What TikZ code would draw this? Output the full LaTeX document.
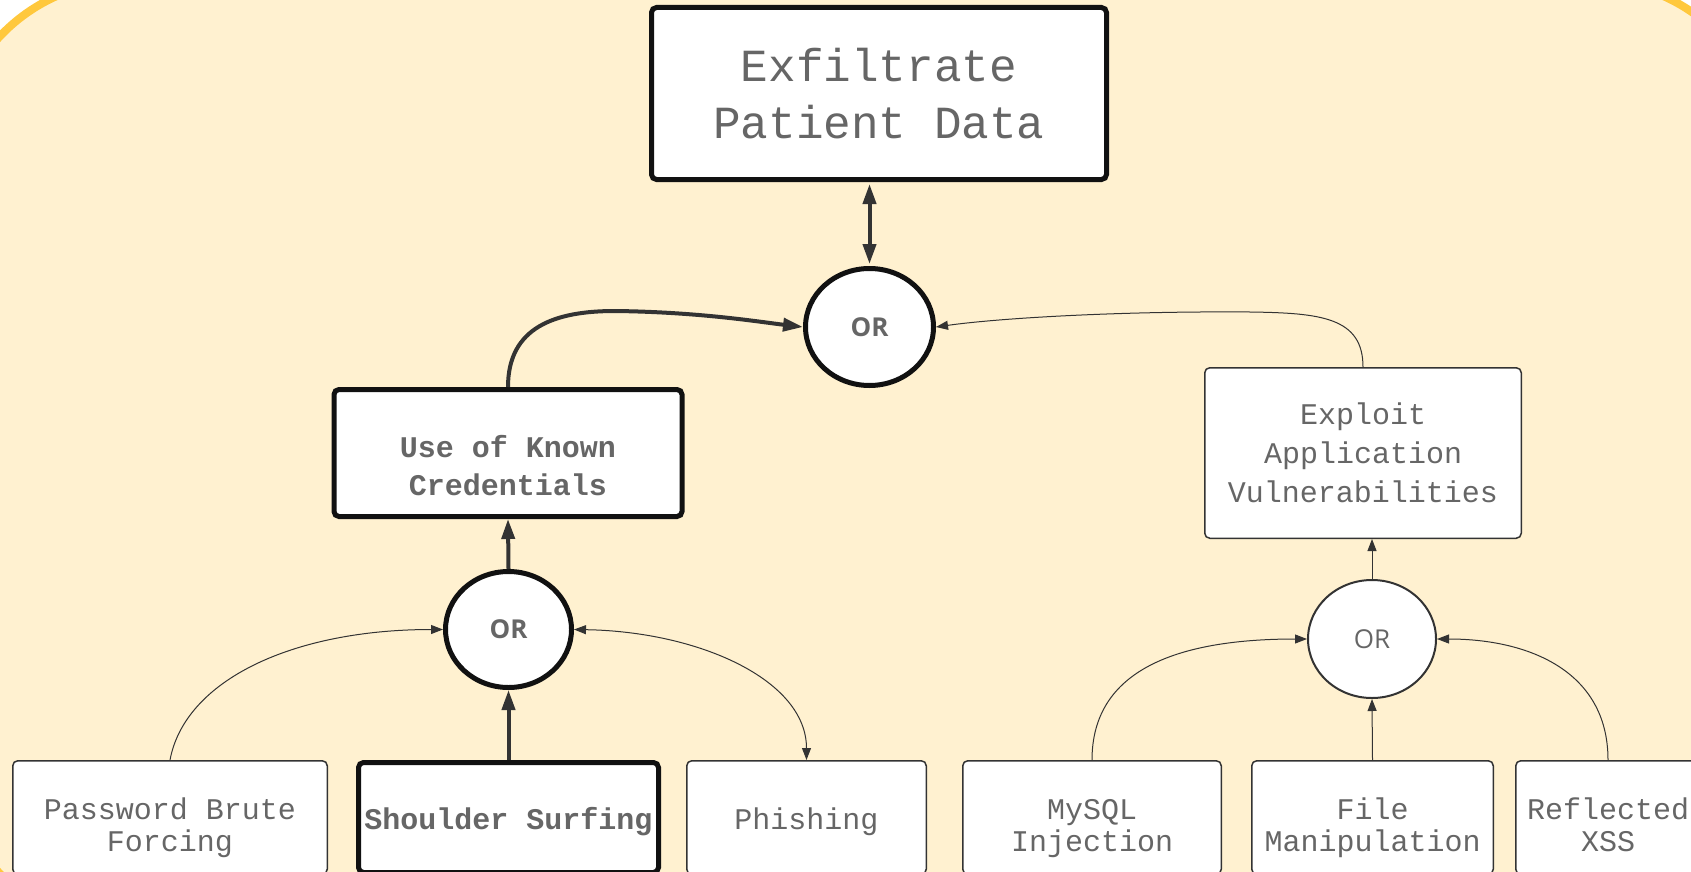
\documentclass[tikz,border=0pt]{standalone}
\usepackage{fontspec}
\newfontfamily\boxfont{Liberation Mono}
\newfontfamily\gatefont{Open Sans}
\usetikzlibrary{arrows.meta,shapes.geometric}

\definecolor{cardfill}{HTML}{FFF1D0}
\definecolor{cardedge}{HTML}{FFC83D}
\definecolor{inkgray}{HTML}{666666}
\definecolor{wire}{HTML}{333333}
\definecolor{edge}{HTML}{111111}

% stacked lines, set lower in their box by half of the first argument
\newcommand\sinkby[2]{\raisebox{0pt}[\dimexpr\height+#1\relax][\depth]{%
  \begin{tabular}{@{}c@{}}#2\end{tabular}}}

\tikzset{
  box/.style={draw=edge, fill=white, rounded corners=5pt, inner sep=0pt,
    align=center, text=inkgray, font=\boxfont\fontsize{30}{32}\selectfont},
  heavy/.style={line width=5pt},
  light/.style={line width=1.5pt, draw=wire},
  gate/.style={ellipse, draw=edge, fill=white, inner sep=0pt, text=inkgray},
  boldgate/.style={gate, line width=5pt, font=\gatefont\bfseries\fontsize{26}{30}\selectfont},
  plaingate/.style={gate, line width=2pt, draw=wire, font=\gatefont\fontsize{26}{30}\selectfont},
  thickwire/.style={draw=wire, line width=4pt, -{Triangle[length=20pt,width=13pt]}},
  thinwire/.style={draw=wire, line width=1pt, -{Triangle[length=12pt,width=9pt]}},
  thinboth/.style={draw=wire, line width=1pt,
    {Triangle[length=12pt,width=9pt]}-{Triangle[length=12pt,width=9pt]}},
  thickboth/.style={draw=wire, line width=4pt,
    {Triangle[length=20pt,width=13pt]}-{Triangle[length=20pt,width=13pt]}},
}

\begin{document}
\begin{tikzpicture}[x=1pt,y=-1pt]
\useasboundingbox (0,0) rectangle (1691,872);
\begin{scope}
\clip (0,0) rectangle (1691,872);
\fill[white] (0,0) rectangle (1691,872);
% the card behind the tree
\draw[cardedge, fill=cardfill, line width=8pt, rounded corners=176pt]
  (-48,-19) rectangle (1768,929);

% goal
\node[box, heavy, minimum width=455pt, minimum height=172pt,
  font=\boxfont\fontsize{46}{57}\selectfont] (goal) at (879,93.5)
  {Exfiltrate\\Patient Data};
\node[boldgate, minimum width=128pt, minimum height=117pt] (orTop) at (869.5,327) {OR};

% left branch
\node[box, heavy, minimum width=348pt, minimum height=127pt,
  font=\boxfont\bfseries\fontsize{30}{38}\selectfont] (cred) at (508,453)
  {\sinkby{31pt}{Use of Known\\Credentials}};
\node[boldgate, minimum width=126pt, minimum height=116pt] (orL) at (508.5,629.5) {OR};
\node[box, light, minimum width=314.5pt, minimum height=113.5pt] (pwd) at (170,817.5)
  {\sinkby{24pt}{Password Brute\\Forcing}};
\node[box, heavy, minimum width=300pt, minimum height=110pt,
  font=\boxfont\bfseries\fontsize{30}{32}\selectfont] (surf) at (508.5,817.5)
  {\sinkby{12pt}{Shoulder Surfing}};
\node[box, light, minimum width=239.5pt, minimum height=113.5pt] (phish) at (806.5,817.5)
  {\sinkby{12pt}{Phishing}};

% right branch
\node[box, light, minimum width=316.5pt, minimum height=170.5pt,
  font=\boxfont\fontsize{30}{39}\selectfont] (exploit) at (1363,453)
  {Exploit\\Application\\Vulnerabilities};
\node[plaingate, minimum width=128pt, minimum height=118pt] (orR) at (1372,639) {OR};
\node[box, light, minimum width=258.5pt, minimum height=113.5pt] (sqli) at (1092,817.5)
  {\sinkby{24pt}{MySQL\\Injection}};
\node[box, light, minimum width=241.5pt, minimum height=113.5pt] (fileman) at (1372.5,817.5)
  {\sinkby{24pt}{File\\Manipulation}};
\node[box, light, minimum width=184.5pt, minimum height=113.5pt] (xss) at (1608,817.5)
  {\sinkby{24pt}{Reflected\\XSS}};

% connectors
\draw[thickboth, shorten <=2pt, shorten >=2pt] (orTop.north |- goal.south) -- (orTop.north);
\draw[thickwire] (cred.north) .. controls +(0,-60) and (555,311) .. (615,311)
  .. controls (700,312) and (760,322) .. (orTop.west);
\draw[thinwire] (exploit.north) .. controls +(0,-50) and (1320,313) .. (1250,312)
  .. controls (1120,311) and (1000,318) .. (orTop.east);
\draw[thickwire] (orL.north) -- (cred.south);
\draw[thickwire] (surf.north) -- (orL.south);
\draw[thinwire] (pwd.north) .. controls +(15,-80) and +(-150,0) .. (orL.west);
\draw[thinboth] (orL.east) .. controls +(125,2) and +(0,-80) .. (phish.north);
\draw[thinwire] (orR.north) -- (orR.north |- exploit.south);
\draw[thinwire] (sqli.north) .. controls +(0,-90) and +(-130,0) .. (orR.west);
\draw[thinwire] (fileman.north) -- (orR.south);
\draw[thinwire] (xss.north) .. controls +(0,-90) and +(90,0) .. (orR.east);
\end{scope}
\end{tikzpicture}
\end{document}
